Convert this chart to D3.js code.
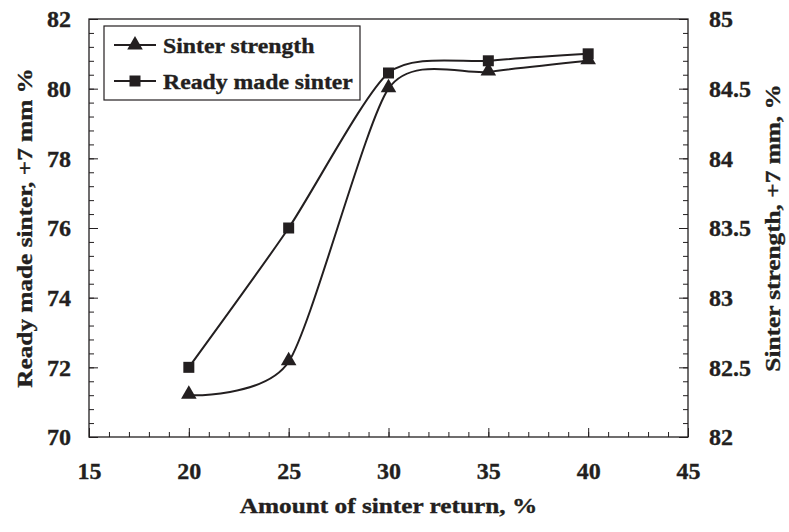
<!DOCTYPE html>
<html lang="en">
<head>
  <meta charset="UTF-8">
  <title>Sinter return</title>
  <script src="https://d3js.org/d3.v7.min.js"></script>
  <style>
    body { margin: 0; background: #fff; }
    text { font-family: "Liberation Serif", "Times New Roman", serif; font-weight: bold; fill: #231f20; stroke: #231f20; stroke-width: 0.35px; }
  </style>
</head>
<body>
  <svg id="chart" width="789" height="532"></svg>
  <script>
    // Data
    const sinterReturn = [20, 25, 30, 35, 40];
    const readyMade = [72, 76, 80.45, 80.8, 81.0];        // left axis
    const strength = [82.3, 82.54, 84.5, 84.62, 84.7];    // right axis

    const xTicks = [15, 20, 25, 30, 35, 40, 45];
    const leftTicks = [70, 72, 74, 76, 78, 80, 82];
    const rightTicks = [82, 82.5, 83, 83.5, 84, 84.5, 85];

    const width = 789, height = 532;
    const margin = { top: 19, right: 101, bottom: 95, left: 89 };
    const ink = "#231f20";
    const stretch = 1.15; // titles in the source are drawn wide

    const svg = d3.select("#chart");

    const x = d3.scaleLinear().domain([15, 45]).range([margin.left, width - margin.right]);
    const yL = d3.scaleLinear().domain([70, 82]).range([height - margin.bottom, margin.top]);
    const yR = d3.scaleLinear().domain([82, 85]).range([height - margin.bottom, margin.top]);

    // frame
    svg.append("rect")
       .attr("x", margin.left).attr("y", margin.top)
       .attr("width", x(45) - x(15)).attr("height", yL(70) - yL(82))
       .attr("fill", "none").attr("stroke", ink).attr("stroke-width", 1.3);

    // minor ticks
    const xMinor = d3.range(15, 45.01, 1);
    const lMinor = d3.range(70, 82.01, 0.4);
    const rMinor = d3.range(82, 85.001, 0.1);

    function styleAxis(g) {
      g.select(".domain").remove();
      g.selectAll("line").attr("stroke", ink).attr("stroke-width", 1);
      g.selectAll("text").style("font-size", "24px").attr("fill", ink);
    }

    svg.append("g")
       .attr("transform", `translate(0,${yL(70)})`)
       .call(d3.axisBottom(x).tickValues(xMinor).tickSize(-5).tickFormat(""))
       .call(styleAxis);
    svg.append("g")
       .attr("transform", `translate(0,${yL(70)})`)
       .call(d3.axisBottom(x).tickValues(xTicks).tickSize(-9).tickPadding(25).tickFormat(d3.format("d")))
       .call(styleAxis);

    svg.append("g")
       .attr("transform", `translate(${margin.left},0)`)
       .call(d3.axisLeft(yL).tickValues(lMinor).tickSize(-5).tickFormat(""))
       .call(styleAxis);
    svg.append("g")
       .attr("transform", `translate(${margin.left},0)`)
       .call(d3.axisLeft(yL).tickValues(leftTicks).tickSize(-9).tickPadding(18).tickFormat(d3.format("d")))
       .call(styleAxis);

    svg.append("g")
       .attr("transform", `translate(${x(45)},0)`)
       .call(d3.axisRight(yR).tickValues(rMinor).tickSize(-5).tickFormat(""))
       .call(styleAxis);
    svg.append("g")
       .attr("transform", `translate(${x(45)},0)`)
       .call(d3.axisRight(yR).tickValues(rightTicks).tickSize(-9).tickPadding(21).tickFormat(d => String(d)))
       .call(styleAxis);

    // series (smoothed lines)
    const curve = d3.curveCardinal.tension(0.3);
    const lineL = d3.line().x((d, i) => x(sinterReturn[i])).y(d => yL(d)).curve(curve);
    const lineR = d3.line().x((d, i) => x(sinterReturn[i])).y(d => yR(d)).curve(curve);

    svg.append("path").datum(readyMade).attr("d", lineL)
       .attr("fill", "none").attr("stroke", ink).attr("stroke-width", 2);
    svg.append("path").datum(strength).attr("d", lineR)
       .attr("fill", "none").attr("stroke", ink).attr("stroke-width", 2);

    const sq = d3.symbol().type(d3.symbolSquare).size(121);
    const tri = d3.symbol().type(d3.symbolTriangle).size(105);

    svg.selectAll(".sq").data(readyMade).join("path")
       .attr("class", "sq").attr("d", sq).attr("fill", ink)
       .attr("transform", (d, i) => `translate(${x(sinterReturn[i])},${yL(d)})`);
    svg.selectAll(".tri").data(strength).join("path")
       .attr("class", "tri").attr("d", tri).attr("fill", ink)
       .attr("transform", (d, i) => `translate(${x(sinterReturn[i])},${yR(d) - 1})`);

    // legend
    const lg = svg.append("g").attr("transform", "translate(104,26)");
    lg.append("rect").attr("width", 256).attr("height", 74)
      .attr("fill", "#fff").attr("stroke", ink).attr("stroke-width", 1.2);
    const items = [
      { label: "Sinter strength", sym: tri },
      { label: "Ready made sinter", sym: sq }
    ];
    items.forEach((it, i) => {
      const cy = 19 + i * 36;
      lg.append("line").attr("x1", 10).attr("x2", 52).attr("y1", cy).attr("y2", cy)
        .attr("stroke", ink).attr("stroke-width", 2);
      lg.append("path").attr("d", it.sym).attr("fill", ink)
        .attr("transform", `translate(31,${cy})`);
      lg.append("text").attr("transform", `translate(59,${cy + 8}) scale(1.08,1)`)
        .style("font-size", "22px").text(it.label);
    });

    // axis titles
    svg.append("text")
       .attr("transform", `translate(${(x(15) + x(45)) / 2},513) scale(${stretch},1)`)
       .attr("text-anchor", "middle").style("font-size", "22px")
       .text("Amount of sinter return, %");

    svg.append("text")
       .attr("transform", `translate(32,${(yL(70) + yL(82)) / 2}) rotate(-90) scale(${stretch},1)`)
       .attr("text-anchor", "middle").style("font-size", "22px")
       .text("Ready made sinter, +7 mm %");

    svg.append("text")
       .attr("transform", `translate(780,${(yL(70) + yL(82)) / 2}) rotate(-90) scale(${stretch},1)`)
       .attr("text-anchor", "middle").style("font-size", "22px")
       .text("Sinter strength, +7 mm, %");
  </script>
</body>
</html>
